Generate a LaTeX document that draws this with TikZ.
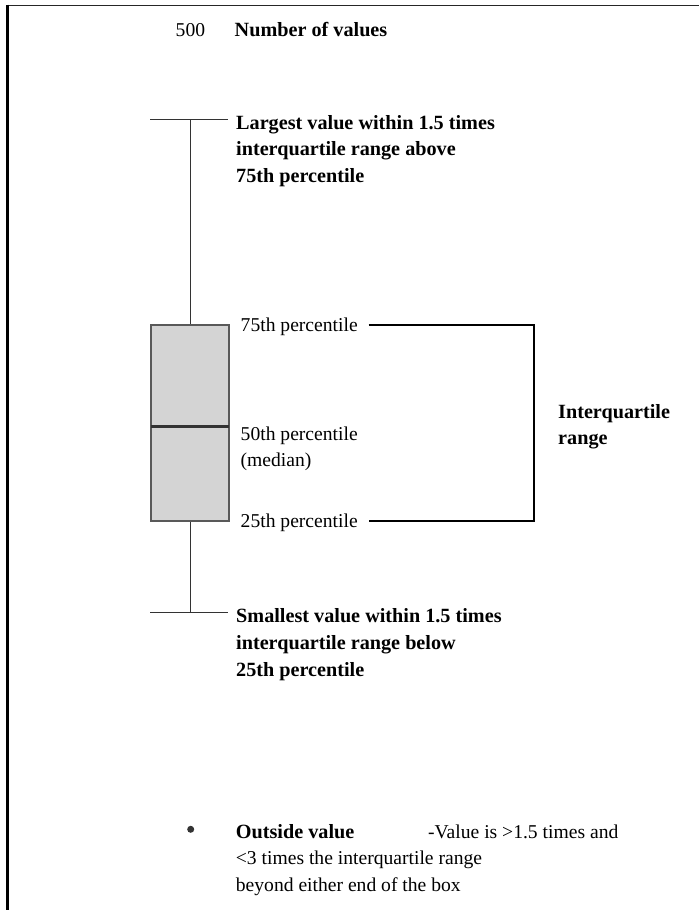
\documentclass[tikz,border=0pt]{standalone}
\usepackage{fontspec}
\setmainfont{Liberation Serif}
\begin{document}
\begin{tikzpicture}[x=1pt,y=-1pt,
  reg/.style={anchor=base west,inner sep=0pt,font=\fontsize{19.6}{26}\selectfont},
  bld/.style={anchor=base west,inner sep=0pt,font=\fontsize{20.2}{26}\selectfont\bfseries},
  whisk/.style={draw=black!80,line width=1.5pt},
  brk/.style={draw=black,line width=1.4pt},
  boxst/.style={draw=black!65,line width=2pt,fill=black!17,inner sep=0pt,minimum width=78.5pt,minimum height=196pt},
  med/.style={draw=black!80,line width=3pt}]
\useasboundingbox (0,0) rectangle (699,910);
% frame
\coordinate (ftl) at (6,5.5);
\coordinate (ftr) at (699,5.5);
\coordinate (flt) at (7.5,4.5);
\coordinate (flb) at (7.5,910);
\draw[line width=1.6pt,black!85] (ftl) -- (ftr);
\draw[line width=2.6pt,black] (flt) -- (flb);
% header
\node[reg] (n500) at (175.5,36) {500};
\node[bld] (nov) at (234.5,36) {Number of values};
% box
\node[boxst] (box) at (189.75,423) {};
\coordinate (medl) at (150.5,426);
\coordinate (medr) at (229,426);
\draw[med] (medl) -- (medr);
% upper whisker
\coordinate (wt) at (190.5,119.3);
\coordinate (wtl) at (150,119.3);
\coordinate (wtr) at (228,119.3);
\draw[whisk] (box.north -| wt) -- (wt);
\draw[whisk] (wtl) -- (wtr);
% lower whisker
\coordinate (wb) at (190.5,612.5);
\coordinate (wbl) at (150,612.5);
\coordinate (wbr) at (228,612.5);
\draw[whisk] (box.south -| wb) -- (wb);
\draw[whisk] (wbl) -- (wbr);
% upper labels
\node[bld] (up1) at (236,129) {Largest value within 1.5 times};
\node[bld] (up2) at (236,155.5) {interquartile range above};
\node[bld] (up3) at (236,182) {75th percentile};
% box labels
\node[reg] (p75) at (240.5,331.5) {75th percentile};
\node[reg] (p50) at (240.5,440) {50th percentile};
\node[reg] (pmed) at (240.5,466.5) {(median)};
\node[reg] (p25) at (240.5,527.5) {25th percentile};
% bracket
\coordinate (b75) at (368.5,325);
\coordinate (b75r) at (534,325);
\coordinate (b25r) at (534,521);
\coordinate (b25) at (368.5,521);
\draw[brk] (b75) -- (b75r) -- (b25r) -- (b25);
\node[bld] (iq1) at (558,418.3) {Interquartile};
\node[bld] (iq2) at (558,444) {range};
% lower labels
\node[bld] (lo1) at (236,622.5) {Smallest value within 1.5 times};
\node[bld] (lo2) at (236,649.5) {interquartile range below};
\node[bld] (lo3) at (236,676) {25th percentile};
% outside value
\node[circle,fill=black!80,inner sep=0pt,minimum size=7pt] (dot) at (190.7,829.3) {};
\node[bld] (ov) at (235.7,838) {Outside value};
\node[reg] (ov2) at (428,838) {-Value is >1.5 times and};
\node[reg] (ov3) at (235.7,864) {<3 times the interquartile range};
\node[reg] (ov4) at (235.7,891.5) {beyond either end of the box};
\end{tikzpicture}
\end{document}
